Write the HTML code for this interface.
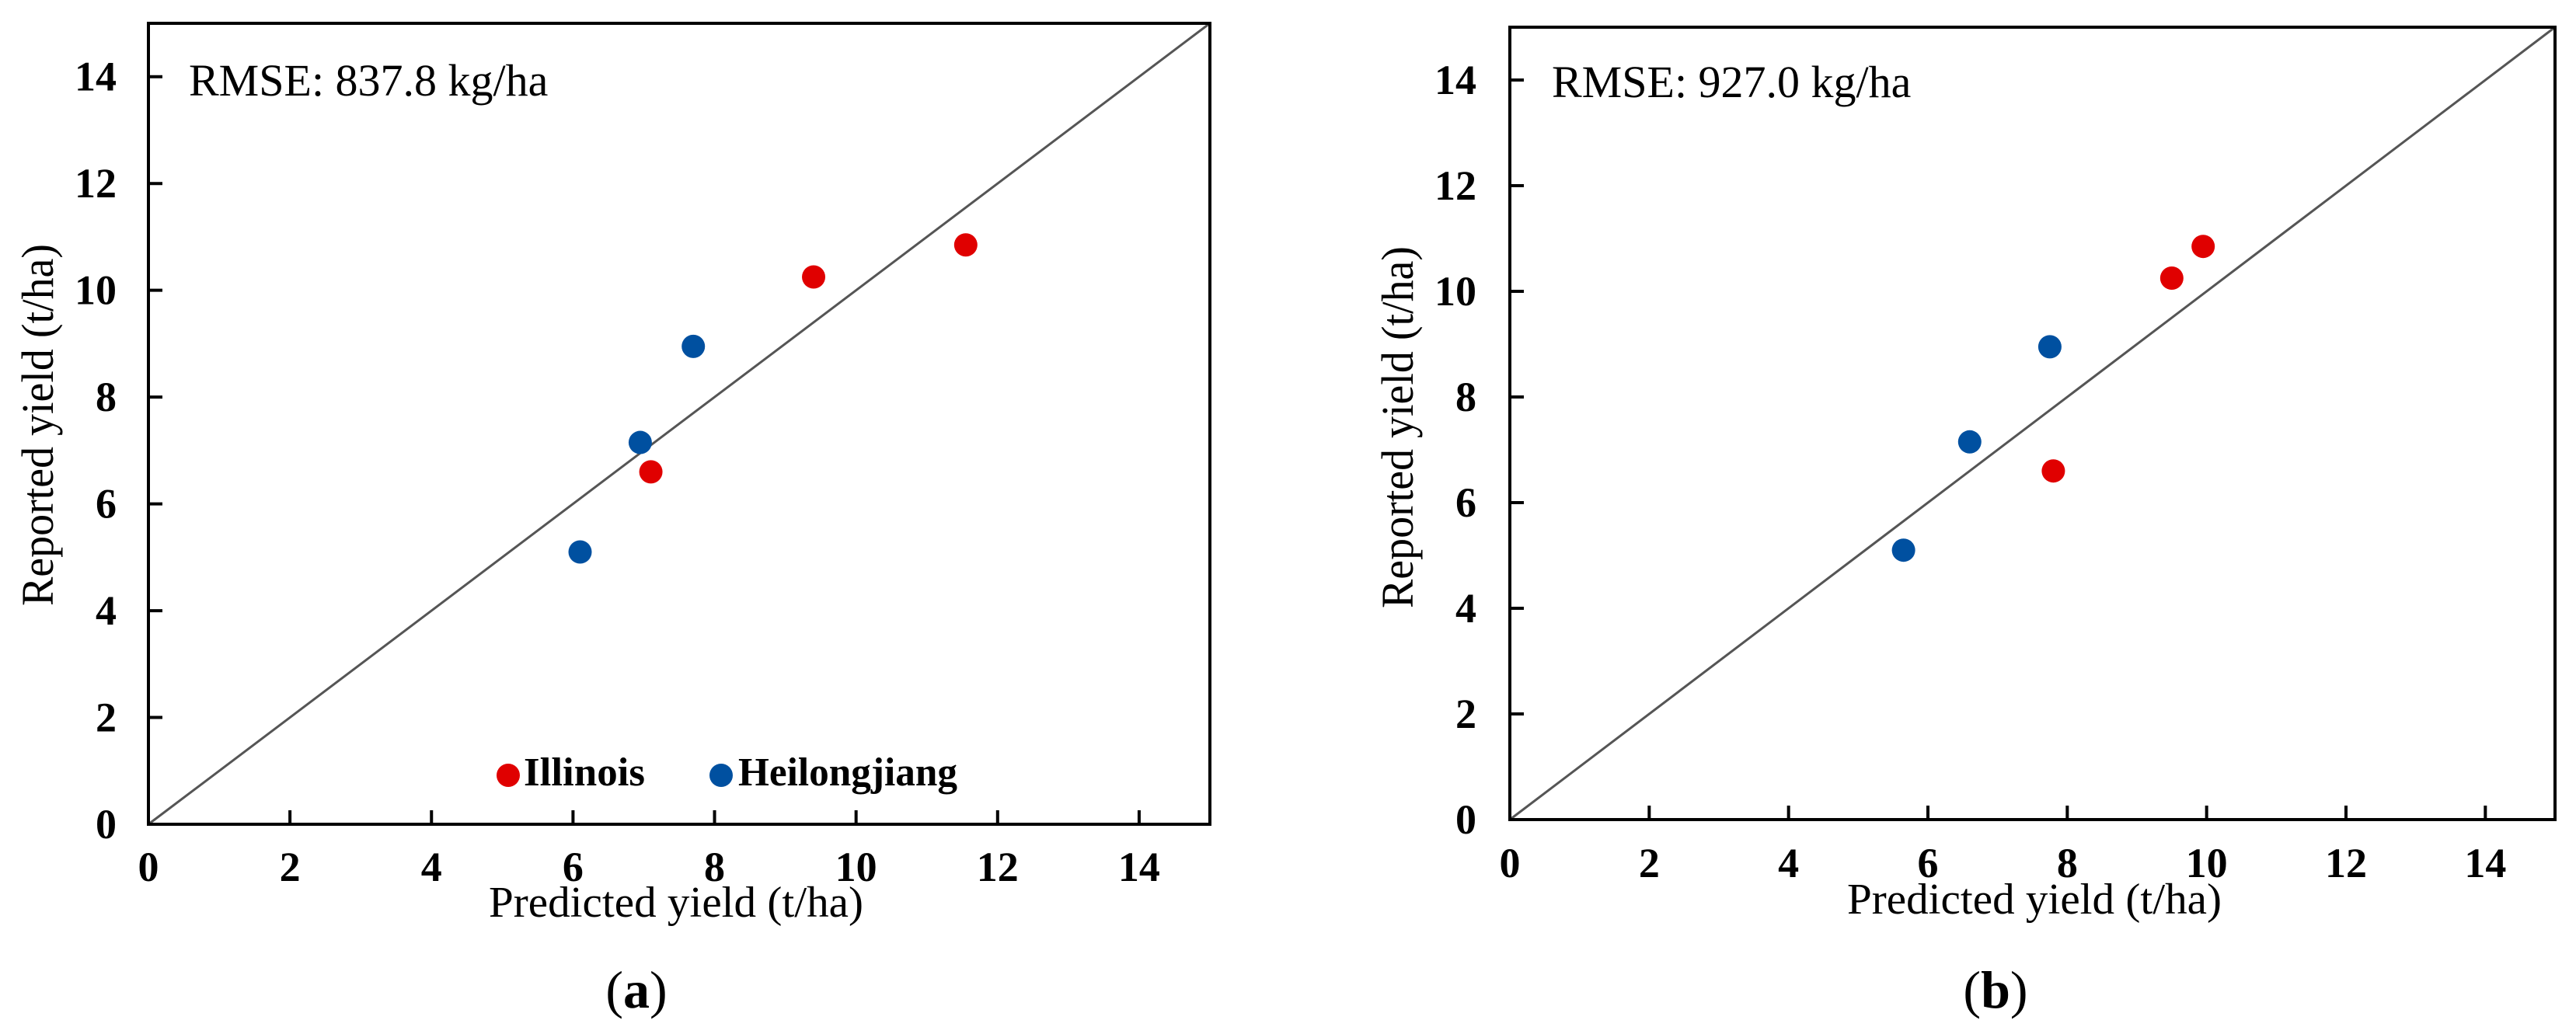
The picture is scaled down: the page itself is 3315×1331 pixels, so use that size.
<!DOCTYPE html>
<html><head><meta charset="utf-8"><style>
html,body{margin:0;padding:0;background:#fff;}
svg{display:block;}
text{font-family:"Liberation Serif",serif;fill:#000;}
</style></head><body>
<svg id="fig" width="3315" height="1331" viewBox="0 0 3315 1331" xmlns="http://www.w3.org/2000/svg"></svg>
<script>
const ticks = [0,2,4,6,8,10,12,14];
const ticksY = [0,2,4,6,8,10,12,14];
const illinoisA_x = [7.1, 9.4, 11.55];
const illinoisA_y = [6.6, 10.25, 10.85];
const heilongA_x = [6.1, 6.95, 7.7];
const heilongA_y = [5.1, 7.15, 8.95];
const illinoisB_x = [7.8, 9.5, 9.95];
const illinoisB_y = [6.6, 10.25, 10.85];
const heilongB_x = [5.65, 6.6, 7.75];
const heilongB_y = [5.1, 7.15, 8.95];
const rmseLabels = ["RMSE: 837.8 kg/ha", "RMSE: 927.0 kg/ha"];
const panelLabels = ["a", "b"];

const NS = "http://www.w3.org/2000/svg";
const svg = document.getElementById('fig');
function mk(tag, attrs, parent){
  const e = document.createElementNS(NS, tag);
  for (const k in attrs) e.setAttribute(k, attrs[k]);
  (parent||svg).appendChild(e);
  return e;
}
const panels = [
  {L:191,R:1557,T:30,B:1061, ix:illinoisA_x, iy:illinoisA_y, hx:heilongA_x, hy:heilongA_y,
   rmseX:243, rmseY:123, tickR:150, xlabY:1134, ytitleX:68, ytitleC:547, xtitleX:629, xtitleY:1180, panX:819, panY:1297, legend:true},
  {L:1943,R:3288,T:35,B:1055, ix:illinoisB_x, iy:illinoisB_y, hx:heilongB_x, hy:heilongB_y,
   rmseX:1997, rmseY:125, tickR:1900, xlabY:1129, ytitleX:1818, ytitleC:550, xtitleX:2377, xtitleY:1176, panX:2568, panY:1297, legend:false}
];
panels.forEach((p, i) => {
  const g = mk('g', {});
  
  
  const sx = v => p.L + v / 15 * (p.R - p.L);
  const sy = v => p.B - v / 15 * (p.B - p.T);
  const ln = mk('line', {x1:sx(0), y1:sy(0), x2:sx(15), y2:sy(15), stroke:'#555', 'stroke-width':3}, g);
  
  
  const fr = mk('rect', {x:p.L, y:p.T, width:p.R-p.L, height:p.B-p.T, fill:'none', stroke:'#000', 'stroke-width':4}, g);
  
  
  ticks.forEach(t => {
    if (t > 0) mk('line', {x1:sx(t), y1:p.B, x2:sx(t), y2:p.B-18, stroke:'#000', 'stroke-width':4}, g);
    const tx = mk('text', {x:sx(t), y:p.xlabY, 'text-anchor':'middle', 'font-size':54, 'font-weight':'bold'}, g);
    tx.textContent = t;
    
    
  });
  ticksY.forEach(t => {
    if (t > 0) mk('line', {x1:p.L, y1:sy(t), x2:p.L+18, y2:sy(t), stroke:'#000', 'stroke-width':4}, g);
    const ty = mk('text', {x:p.tickR, y:sy(t)+18, 'text-anchor':'end', 'font-size':54, 'font-weight':'bold'}, g);
    ty.textContent = t;
    
    
  });
  p.ix.forEach((v, k) => {
    const c = mk('circle', {cx:sx(v), cy:sy(p.iy[k]), r:15, fill:'#e00000'}, g);
    
    
  });
  p.hx.forEach((v, k) => {
    const c = mk('circle', {cx:sx(v), cy:sy(p.hy[k]), r:15, fill:'#0050a0'}, g);
    
    
  });
  const rm = mk('text', {x:p.rmseX, y:p.rmseY, 'font-size':58}, g);
  rm.textContent = rmseLabels[i];
  
  
  const xt = mk('text', {x:p.xtitleX, y:p.xtitleY, 'font-size':56, textLength:482, lengthAdjust:'spacingAndGlyphs'}, g);
  xt.textContent = 'Predicted yield (t/ha)';
  
  
  const yt = mk('text', {x:0, y:0, 'font-size':58, 'text-anchor':'middle', textLength:466, lengthAdjust:'spacingAndGlyphs',
    transform:'translate(' + p.ytitleX + ',' + p.ytitleC + ') rotate(-90)'}, g);
  yt.textContent = 'Reported yield (t/ha)';
  
  
  const pl = mk('text', {x:p.panX, y:p.panY, 'font-size':68, 'text-anchor':'middle'}, g);
  pl.innerHTML = '(<tspan font-weight="bold">' + panelLabels[i] + '</tspan>)';
  
  
  if (p.legend) {
    const lg = mk('g', {}, g);
    
    
    mk('circle', {cx:654, cy:998, r:15, fill:'#e00000'}, lg);
    const t1 = mk('text', {x:674, y:1011, 'font-size':52, 'font-weight':'bold', textLength:156, lengthAdjust:'spacingAndGlyphs'}, lg);
    t1.textContent = 'Illinois';
    
    
    mk('circle', {cx:928, cy:998, r:15, fill:'#0050a0'}, lg);
    const t2 = mk('text', {x:950, y:1011, 'font-size':52, 'font-weight':'bold', textLength:282, lengthAdjust:'spacingAndGlyphs'}, lg);
    t2.textContent = 'Heilongjiang';
    
    
  }
});
</script>
</body></html>
